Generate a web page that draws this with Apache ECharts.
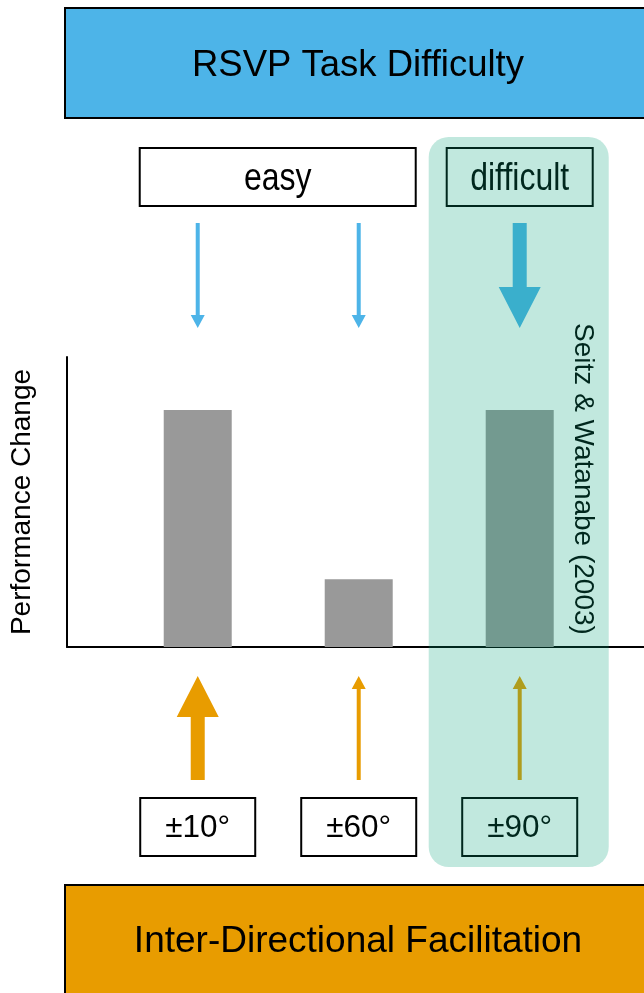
<!DOCTYPE html>
<html>
<head>
<meta charset="utf-8">
<script src="https://cdn.jsdelivr.net/npm/echarts@6/dist/echarts.min.js"></script>
<style>
html,body{margin:0;padding:0;background:#fff;}
#chart{width:644px;height:993px;}
</style>
</head>
<body>
<div id="chart"></div>
<script>
// ---- data ----
const categories = ['±10°', '±60°', '±90°'];
const barPositions = [1, 2, 3];
const performanceChange = [81.7, 23.4, 81.7];
const difficultyGroups = ['easy', 'difficult'];
const difficultyOfCategory = ['easy', 'easy', 'difficult'];
const rsvpArrowWeight = ['thin', 'thin', 'thick'];
const facilitationArrowWeight = ['thick', 'thin', 'thin'];
const topTitle = 'RSVP Task Difficulty';
const bottomTitle = 'Inter-Directional Facilitation';
const yAxisName = 'Performance Change';
const citation = 'Seitz & Watanabe (2003)';

const FONT = '"Liberation Sans", Arial, sans-serif';
const BLUE = '#4DB4E8';
const ORANGE = '#E89C00';
const GRAY = '#999999';

const chart = echarts.init(document.getElementById('chart'), null, {renderer: 'canvas'});

const baseOption = {
  animation: false,
  backgroundColor: '#ffffff',
  grid: {left: 66, right: 0, top: 357, bottom: 346, containLabel: false},
  xAxis: {
    type: 'value', min: 0.188, max: 3.772,
    axisLine: {show: true, onZero: false, lineStyle: {color: '#000', width: 2}},
    axisTick: {show: false}, axisLabel: {show: false}, splitLine: {show: false}
  },
  yAxis: {
    type: 'value', min: 0, max: 100,
    name: yAxisName, nameLocation: 'middle', nameGap: 31, nameRotate: 90,
    nameTextStyle: {fontFamily: FONT, fontSize: 28, color: '#000'},
    axisLine: {show: true, lineStyle: {color: '#000', width: 2}},
    axisTick: {show: false}, axisLabel: {show: false}, splitLine: {show: false}
  },
  series: [{
    type: 'bar',
    barWidth: 68,
    itemStyle: {color: GRAY},
    data: barPositions.map((x, i) => [x, performanceChange[i]]),
    z: 2
  }]
};
chart.setOption(baseOption);

function downArrow(cx, yTop, yTip, shaftW, headW, headLen) {
  const yb = yTip - headLen;
  return [[cx - shaftW / 2, yTop], [cx + shaftW / 2, yTop], [cx + shaftW / 2, yb], [cx + headW / 2, yb],
          [cx, yTip], [cx - headW / 2, yb], [cx - shaftW / 2, yb]];
}
function upArrow(cx, yBottom, yTip, shaftW, headW, headLen) {
  const yb = yTip + headLen;
  return [[cx - shaftW / 2, yBottom], [cx + shaftW / 2, yBottom], [cx + shaftW / 2, yb], [cx + headW / 2, yb],
          [cx, yTip], [cx - headW / 2, yb], [cx - shaftW / 2, yb]];
}

const cx = barPositions.map(v => chart.convertToPixel({gridIndex: 0}, [v, 0])[0]);
const graphics = [];

// top and bottom banners
graphics.push({type: 'rect', z: 10, shape: {x: 65, y: 8, width: 600, height: 110},
  style: {fill: BLUE, stroke: '#000', lineWidth: 2}});
graphics.push({type: 'text', z: 11, x: 358, y: 66,
  style: {text: topTitle, font: '36.5px ' + FONT, fill: '#000', align: 'center', verticalAlign: 'middle'}});
graphics.push({type: 'rect', z: 10, shape: {x: 65, y: 885, width: 600, height: 130},
  style: {fill: ORANGE, stroke: '#000', lineWidth: 2}});
graphics.push({type: 'text', z: 11, x: 358, y: 942,
  style: {text: bottomTitle, font: '37px ' + FONT, fill: '#000', align: 'center', verticalAlign: 'middle'}});

// difficulty boxes
difficultyGroups.forEach(g => {
  const idx = difficultyOfCategory.map((d, i) => d === g ? i : -1).filter(i => i >= 0);
  const xs = idx.map(i => cx[i]);
  let x0, x1;
  if (xs.length > 1) { x0 = Math.min(...xs) - 58; x1 = Math.max(...xs) + 57; }
  else { x0 = xs[0] - 73; x1 = xs[0] + 73; }
  graphics.push({type: 'rect', z: 10, shape: {x: x0, y: 148, width: x1 - x0, height: 58},
    style: {fill: '#fff', stroke: '#000', lineWidth: 2}});
  graphics.push({type: 'text', z: 11, x: (x0 + x1) / 2, y: 179, scaleY: 1.2,
    style: {text: g, font: '32px ' + FONT, fill: '#000', align: 'center', verticalAlign: 'middle'}});
});

// category boxes
categories.forEach((c, i) => {
  graphics.push({type: 'rect', z: 10, shape: {x: cx[i] - 57.5, y: 798, width: 115, height: 58},
    style: {fill: '#fff', stroke: '#000', lineWidth: 2}});
  graphics.push({type: 'text', z: 11, x: cx[i], y: 828,
    style: {text: c, font: '31.5px ' + FONT, fill: '#000', align: 'center', verticalAlign: 'middle'}});
});

// arrows
cx.forEach((x, i) => {
  const thickD = rsvpArrowWeight[i] === 'thick';
  graphics.push({type: 'polygon', z: 10,
    shape: {points: thickD ? downArrow(x, 223, 328, 14, 42, 41) : downArrow(x, 223, 328, 4, 14, 13)},
    style: {fill: BLUE}});
  const thickU = facilitationArrowWeight[i] === 'thick';
  graphics.push({type: 'polygon', z: 10,
    shape: {points: thickU ? upArrow(x, 780, 676, 14, 42, 41) : upArrow(x, 780, 676, 4, 14, 13)},
    style: {fill: ORANGE}});
});

// citation
graphics.push({type: 'text', z: 11, x: 583, y: 479, rotation: -Math.PI / 2,
  style: {text: citation, font: '28px ' + FONT, fill: '#000', align: 'center', verticalAlign: 'middle'}});

// highlight overlay for the difficult condition
const hiIdx = difficultyOfCategory.indexOf('difficult');
graphics.push({type: 'rect', z: 100, shape: {x: cx[hiIdx] - 91, y: 137, width: 180, height: 730, r: 20},
  style: {fill: 'rgba(0,160,120,0.245)'}});

chart.setOption({graphic: {elements: graphics}});
</script>
</body>
</html>
